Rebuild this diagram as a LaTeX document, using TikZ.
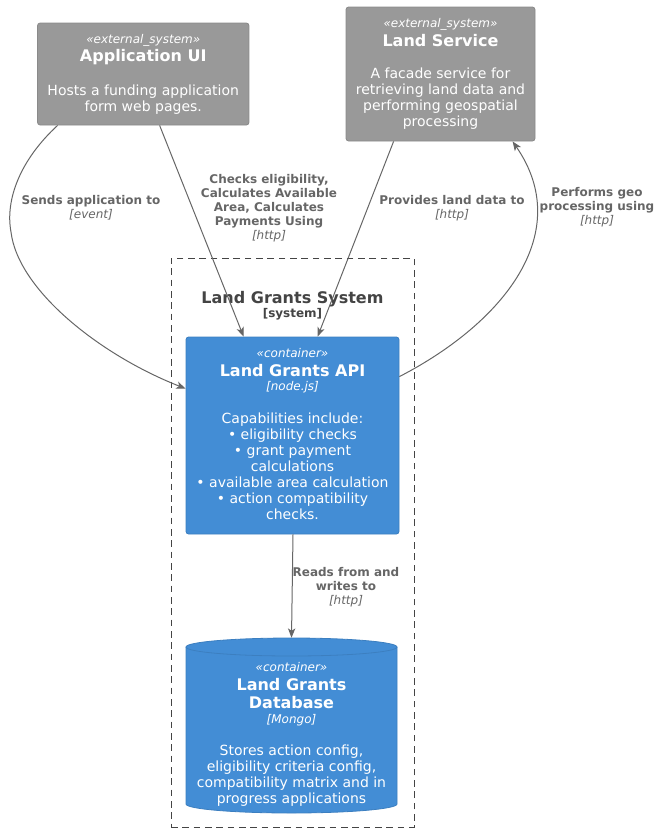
\documentclass[tikz,border=0pt]{standalone}
\usepackage{fontspec}
\setmainfont{DejaVu Sans}
\usetikzlibrary{arrows.meta,calc}
\definecolor{extfill}{HTML}{999999}
\definecolor{extdraw}{HTML}{8A8A8A}
\definecolor{confill}{HTML}{438DD5}
\definecolor{condraw}{HTML}{3C7FC0}
\definecolor{edgecol}{HTML}{666666}
\definecolor{bndcol}{HTML}{444444}
\tikzset{
  extbox/.style={draw=extdraw, fill=extfill, rounded corners=2pt, line width=0.6pt, inner sep=0pt},
  conbox/.style={draw=condraw, fill=confill, rounded corners=2pt, line width=0.6pt, inner sep=0pt},
  bnd/.style={draw=bndcol, dash pattern=on 5pt off 3.5pt, line width=0.6pt, inner sep=0pt},
  stereo/.style={anchor=base, inner sep=0pt, text=white, font=\fontsize{9}{10.5}\itshape\selectfont},
  ttl/.style={anchor=base, inner sep=0pt, text=white, align=center, font=\fontsize{12}{13.5}\bfseries\selectfont},
  tech/.style={anchor=base, inner sep=0pt, text=white, font=\fontsize{9}{10.5}\itshape\selectfont},
  desc/.style={anchor=base, inner sep=0pt, text=white, align=center, font=\fontsize{10.5}{12}\selectfont},
  elabel/.style={anchor=base, inner sep=0pt, text=edgecol, align=center, font=\fontsize{9}{10.5}\selectfont},
  conn/.style={draw=edgecol, line width=0.75pt, -{Stealth[length=7pt,width=5.5pt,inset=1.8pt]}},
}
\begin{document}
\begin{tikzpicture}[x=0.75pt,y=-0.75pt]
\useasboundingbox (0,0) rectangle (661,833);

% boundary
\node[bnd, minimum width=182.25pt, minimum height=426.75pt] (sys) at (292.5,542.5) {};
\node[anchor=base, inner sep=0pt, text=bndcol, font=\fontsize{12}{13.5}\bfseries\selectfont] (systitle) at (292.5,303) {Land Grants System};
\node[anchor=base, inner sep=0pt, text=bndcol, font=\fontsize{9}{10.5}\bfseries\selectfont] (systype) at (292.5,317) {[system]};

% Application UI
\node[extbox, minimum width=158.6pt, minimum height=76.5pt] (app) at (143.25,74) {};
\node[stereo] (appst) at (143.25,43) {«external\_system»};
\node[ttl] (appt) at (143.25,61.5) {Application UI};
\node[desc] (appd) at (143.25,111) {Hosts a funding application\\form web pages.};

% Land Service
\node[extbox, minimum width=141.75pt, minimum height=100.5pt] (land) at (440.5,74) {};
\node[stereo] (landst) at (440.5,27) {«external\_system»};
\node[ttl] (landt) at (440.5,46) {Land Service};
\node[desc] (landd) at (440.5,126) {A facade service for\\retrieving land data and\\performing geospatial\\processing};

% Land Grants API
\node[conbox, minimum width=159.75pt, minimum height=147.75pt] (api) at (292.5,435.5) {};
\node[stereo] (apist) at (292.5,357) {«container»};
\node[ttl] (apit) at (292.5,376) {Land Grants API};
\node[tech] (apitech) at (292.5,390) {[node.js]};
\node[desc] (apid) at (292.5,519) {Capabilities include:\\• eligibility checks\\• grant payment\\calculations\\• available area calculation\\• action compatibility\\checks.};

% Database
\node[inner sep=0pt, minimum width=158.25pt, minimum height=131.25pt] (db) at (291.5,725.5) {};
\path[fill=confill, draw=condraw, line width=0.6pt]
  (186,647) -- (186,804) arc[start angle=180, end angle=360, x radius=79.125pt, y radius=6.75pt]
  -- (397,647) arc[start angle=0, end angle=180, x radius=79.125pt, y radius=6.75pt] -- cycle;
\draw[draw=condraw, line width=0.6pt] (186,647) arc[start angle=180, end angle=360, x radius=79.125pt, y radius=6.75pt];
\node[stereo] (dbst) at (291.5,671) {«container»};
\node[ttl] (dbt) at (291.5,708) {Land Grants\\Database};
\node[tech] (dbtech) at (291.5,723) {[Mongo]};
\node[desc] (dbd) at (291.5,803) {Stores action config,\\eligibility criteria config,\\compatibility matrix and in\\progress applications};

% connectors
\draw[conn] ($(app.south west)+(20.5,0)$) .. controls (20,160) and (5,200) .. (11,232)
   .. controls (18,290) and (100,355) .. ($(api.north west)+(0,52)$);
\draw[conn] ($(app.south west)+(122.5,0)$) -- ($(api.north west)+(58,0)$);
\draw[conn] ($(land.south west)+(48,0)$) -- ($(api.north west)+(132,0)$);
\draw[conn] ($(api.north east)+(0,40)$) .. controls (505,322) and (575,232) .. ($(land.south west)+(167,0)$);
\draw[conn] ($(api.south)+(0.5,0)$) -- ($(db.north)+(0,0)$);

% connector labels
\node[elabel] (l1) at (91,218) {\textbf{Sends application to}\\\textit{[event]}};
\node[elabel] (l2) at (269,239) {\textbf{Checks eligibility,}\\\textbf{Calculates Available}\\\textbf{Area, Calculates}\\\textbf{Payments Using}\\\textit{[http]}};
\node[elabel] (l3) at (452,218) {\textbf{Provides land data to}\\\textit{[http]}};
\node[elabel] (l4) at (597,224) {\textbf{Performs geo}\\\textbf{processing using}\\\textit{[http]}};
\node[elabel] (l5) at (346,604) {\textbf{Reads from and}\\\textbf{writes to}\\\textit{[http]}};
\end{tikzpicture}
\end{document}
